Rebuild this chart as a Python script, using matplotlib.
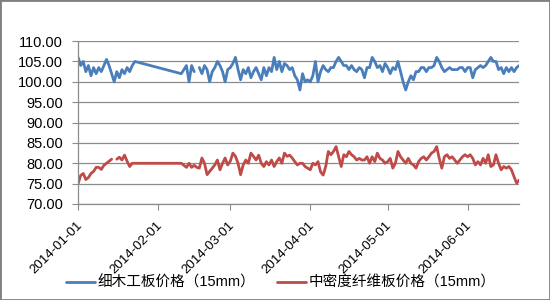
import numpy as np
import pandas as pd
import matplotlib
matplotlib.use('Agg')
import matplotlib.pyplot as plt
import matplotlib.dates as mdates
from matplotlib.patches import Rectangle
from matplotlib.transforms import ScaledTranslation

plt.rcParams['font.family'] = ['Liberation Sans', 'Noto Sans CJK SC', 'DejaVu Sans']

# None -> no quote that day, the line just joins the neighbours (Excel style)
# GAP  -> empty cell, the line breaks there
N = None
GAP = np.nan

start_date = '2014-01-01'
month_ticks = ['2014-01-01', '2014-02-01', '2014-03-01',
               '2014-04-01', '2014-05-01', '2014-06-01']
series_names = ['细木工板价格（15mm）', '中密度纤维板价格（15mm）']
y_ticks = [70, 75, 80, 85, 90, 95, 100, 105, 110]

# 细木工板 (blockboard), daily
blue_jan = [106, 104, 105, 102.5, 104, 101.5, 103.5, 102, 103.5, 102.5,
            104, 105.5, 104, 102, 100, 102.5, 101, 103, 102, 103.5,
            102.5, 104, 105, N, N, N, N, N, N, N, N]
blue_feb = [N, N, N, N, N, N, N, N, N, 102,
            103, 104, 100, 104, 102.5, GAP, 103.5, 102, 104, 103,
            100, 102.5, 103.5, 105, 104, 102.5, 100, 103]
blue_mar = [103.5, 104.5, 106, 103, 100.5, 103, 102, 103.5, 101, 102.5,
            103.5, 102, 100.5, 103.5, 101.5, 103.5, 102.5, 106, 103, 105,
            102.5, 104.5, 104, 103, 103.5, 101.5, 100.5, 98, 102, 100, 100.5]
blue_apr = [100, 101.5, 105, 100, 102.5, 104, 103, 102.5, 103.5, 103.5,
            105, 106, 105, 104, 104, 103, 104, 103, 102.5, 103.5,
            103, 101, 103.5, 103.5, 106, 105, 103.5, 104, 102.5, 104.5]
blue_may = [103.5, 102, 103.5, 103, 105, 102.5, 100, 98, 100, 101.5,
            100.5, 102.5, 102.5, 103.5, 103.5, 102.5, 103.5, 103.5, 104, 106,
            105, 103.5, 102.5, 103, 103.5, 103, 103, 103, 103.5, 103.5, 102.5]
blue_jun = [103.5, 103.5, 101, 103, 103.5, 104, 103.5, 104, 105, 106,
            105, 105, 103, 103.5, 102, 103.5, 102.5, 103.5, 102.5, 103.5, 104]

# 中密度纤维板 (MDF), daily
red_jan = [75, 77, 77.5, 76, 76.5, 77.5, 78, 79, 79, 78.5,
           79.5, 80, 80.5, 81, GAP, 81, 81.5, 80.8, 82, 80.5,
           79.2, 80, 80, 80, 80, 80, 80, 80, 80, 80, 80]
red_feb = [80, 80, 80, 80, 80, 80, 80, 80, 80, 80,
           79.5, 79, 80, 79, 79.5, 79, 78.8, 81.3, 80, 77.2,
           78, 78.8, 79.6, 80.8, 78.4, 80, 81.3, 79.6]
red_mar = [80.5, 82.5, 81.7, 80, 77.2, 79.6, 80.8, 80, 82.5, 81.7,
           80.8, 82, 80, 79.2, 80.4, 79.6, 80.8, 79.2, 80.4, 81.3,
           80, 82.5, 81.7, 82, 81.3, 80.4, 79.6, 80, 80, 79.2, 78.8]
red_apr = [78.4, 80, 79.6, 80.4, 77.9, 77.1, 79.2, 82.9, 82.1, 82.9,
           84.1, 81.6, 79.2, 82.1, 81.6, 82.9, 82.1, 81.6, 80.8, 81.2,
           80.8, 80.8, 81.6, 80, 81.6, 80.4, 82.5, 81.2, 80.8, 80]
red_may = [80.4, 81.2, 78.8, 80, 82.9, 81.6, 80.8, 80, 81.2, 80,
           79.6, 78.8, 80.4, 81.2, 81.6, 80.8, 81.6, 82.5, 82.9, 84.1,
           81.2, 78.8, 81.6, 82.1, 81.2, 81.6, 80.8, 80, 80.8, 81.6, 82.1]
red_jun = [81.6, 82.1, 81.2, 79.6, 80.4, 79.6, 81.2, 80, 82.1, 79.2,
           79.6, 82.1, 80, 78.4, 79.2, 78.8, 79.2, 78.4, 76.7, 75.1, 75.9]

blockboard = blue_jan + blue_feb + blue_mar + blue_apr + blue_may + blue_jun
mdf = red_jan + red_feb + red_mar + red_apr + red_may + red_jun
dates = pd.date_range(start_date, periods=len(blockboard), freq='D')


def series_xy(values):
    keep = [(d, v) for d, v in zip(dates, values) if v is not None]
    return [d for d, _ in keep], [v for _, v in keep]


fig = plt.figure(figsize=(5.5, 3.0), dpi=100)
ax = fig.add_axes([0.142, 0.32, 0.802, 0.543])

colors = ['#4a7ebb', '#be4b48']
for values, name, c in zip([blockboard, mdf], series_names, colors):
    x, y = series_xy(values)
    ax.plot(x, y, color=c, lw=2.0, label=name,
            solid_joinstyle='round', solid_capstyle='round')

ax.set_xlim(dates[0], dates[-1])
ax.set_ylim(y_ticks[0], y_ticks[-1])
ax.set_yticks(y_ticks)
ax.yaxis.set_major_formatter(matplotlib.ticker.FormatStrFormatter('%.2f'))
ax.set_xticks(pd.to_datetime(month_ticks))
ax.xaxis.set_major_formatter(mdates.DateFormatter('%Y-%m-%d'))

ax.grid(axis='y', color='#8c8c8c', lw=0.9)
ax.set_axisbelow(True)
for side in ['top', 'right']:
    ax.spines[side].set_visible(False)
for side in ['left', 'bottom']:
    ax.spines[side].set_color('#8c8c8c')
    ax.spines[side].set_linewidth(0.9)

ax.tick_params(axis='y', length=4, color='#8c8c8c', pad=7, labelsize=10.5)
ax.tick_params(axis='x', length=4, color='#8c8c8c', pad=3, labelsize=9.5)
# Excel drops the rotated dates a little below the tick
shift = ScaledTranslation(-0.02, -0.06, fig.dpi_scale_trans)
for lab in ax.get_xticklabels():
    lab.set_rotation(45)
    lab.set_ha('right')
    lab.set_va('top')
    lab.set_rotation_mode('anchor')
    lab.set_transform(lab.get_transform() + shift)

fig.legend(loc='center', bbox_to_anchor=(0.51, 0.058), ncol=2, frameon=False,
           fontsize=10.5, handlelength=2.0, columnspacing=1.5, handletextpad=0.15)

fig.patches.append(Rectangle((0, 0), 1, 1, transform=fig.transFigure,
                             fill=False, edgecolor='#7f7f7f', lw=2))

fig.savefig('out.png', dpi=100)
